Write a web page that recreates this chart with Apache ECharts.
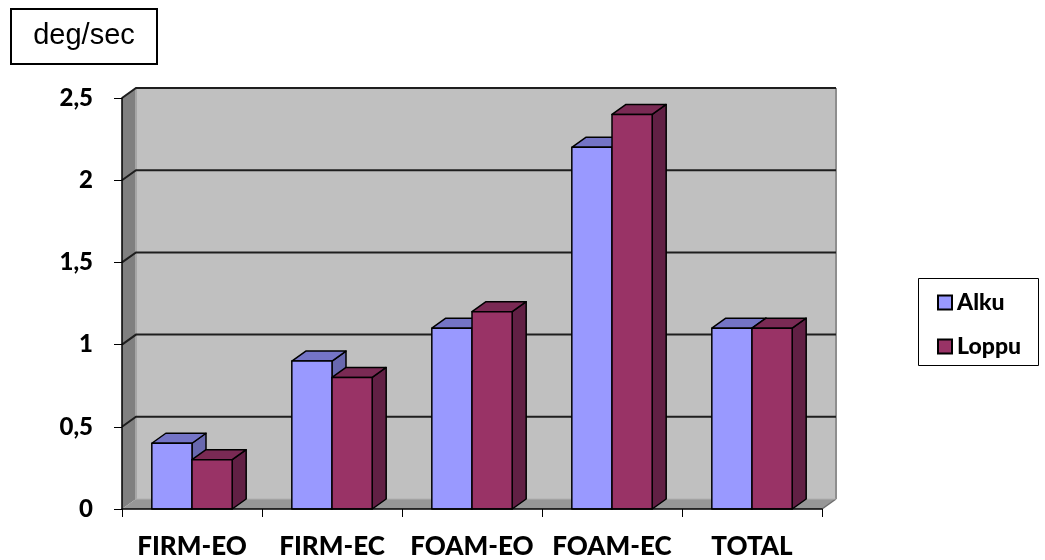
<!DOCTYPE html>
<html>
<head>
<meta charset="utf-8">
<script src="https://cdn.jsdelivr.net/npm/echarts@6/dist/echarts.min.js"></script>
<style>
  html, body { margin: 0; padding: 0; background: #ffffff; }
  #chart { width: 1045px; height: 560px; }
</style>
</head>
<body>
<div id="chart"></div>
<script>
// Angular velocity per condition, start (Alku) vs end (Loppu)
const categories = ['FIRM-EO', 'FIRM-EC', 'FOAM-EO', 'FOAM-EC', 'TOTAL'];
const alku = [0.4, 0.9, 1.1, 2.2, 1.1];
const loppu = [0.3, 0.8, 1.2, 2.4, 1.1];
const seriesNames = ['Alku', 'Loppu'];
const yTicks = [0, 0.5, 1, 1.5, 2, 2.5];
const yTickLabels = ['0', '0,5', '1', '1,5', '2', '2,5'];
const unitLabel = 'deg/sec';

// depth offset of the pseudo-3D box and bars
const DX = 14, DY = -10;
const LABEL_FONT = 'Lato, "Open Sans", sans-serif';

const faces = {
  Alku:  { front: '#9999FF', top: '#7474C6', side: '#6868AE' },
  Loppu: { front: '#993366', top: '#7A2A54', side: '#612044' }
};

// back wall, left wall, floor and the gridlines running across them
function renderWalls(params, api) {
  const cs = params.coordSys;
  const L = cs.x, R = cs.x + cs.width, T = cs.y, B = cs.y + cs.height;
  const kids = [];
  kids.push({ type: 'rect', shape: { x: L + DX, y: T + DY, width: cs.width, height: cs.height },
              style: { fill: '#C0C0C0' } });
  kids.push({ type: 'polygon', shape: { points: [[L, T], [L + DX, T + DY], [L + DX, B + DY], [L, B]] },
              style: { fill: '#808080' } });
  kids.push({ type: 'polygon', shape: { points: [[L, B], [R, B], [R + DX, B + DY], [L + DX, B + DY]] },
              style: { fill: '#979797' } });
  kids.push({ type: 'line', shape: { x1: L + DX, y1: T + DY, x2: L + DX, y2: B + DY },
              style: { stroke: '#A6A6A6', lineWidth: 2 } });
  kids.push({ type: 'line', shape: { x1: R + DX, y1: T + DY, x2: R + DX, y2: B + DY },
              style: { stroke: '#8E8E8E', lineWidth: 2 } });
  kids.push({ type: 'line', shape: { x1: R, y1: B, x2: R + DX, y2: B + DY },
              style: { stroke: '#6E6E6E', lineWidth: 1.5 } });
  kids.push({ type: 'line', shape: { x1: L + DX, y1: B + DY, x2: R + DX, y2: B + DY },
              style: { stroke: '#B0B0B0', lineWidth: 1 } });
  yTicks.slice(1).forEach(function (v) {
    const y = api.coord([0, v])[1];
    kids.push({ type: 'polyline', shape: { points: [[L, y], [L + DX, y + DY], [R + DX, y + DY]] },
                style: { stroke: '#1E1E1E', lineWidth: 2, fill: null } });
  });
  return { type: 'group', children: kids };
}

// one 3D bar: side face, top face, then front face
function barRenderer(slot, col) {
  return function (params, api) {
    const idx = api.value(0), v = api.value(1);
    const base = api.coord([idx, 0]);
    const top = api.coord([idx, v]);
    const band = api.size([1, 0])[0];
    const w = band * 0.287;
    const x0 = slot === 0 ? base[0] - w : base[0];
    const x1 = x0 + w;
    const yb = base[1], yt = top[1];
    const st = { stroke: '#000000', lineWidth: 1.5, lineJoin: 'round' };
    return {
      type: 'group',
      children: [
        { type: 'polygon', shape: { points: [[x1, yt], [x1 + DX, yt + DY], [x1 + DX, yb + DY], [x1, yb]] },
          style: Object.assign({}, st, { fill: col.side }) },
        { type: 'polygon', shape: { points: [[x0, yt], [x0 + DX, yt + DY], [x1 + DX, yt + DY], [x1, yt]] },
          style: Object.assign({}, st, { fill: col.top }) },
        { type: 'rect', shape: { x: x0, y: yt, width: w, height: yb - yt },
          style: Object.assign({}, st, { fill: col.front }) }
      ]
    };
  };
}

const chart = echarts.init(document.getElementById('chart'), null, { renderer: 'canvas' });

chart.setOption({
  backgroundColor: '#ffffff',
  animation: false,
  grid: { left: 122, top: 98, width: 700, height: 411 },
  xAxis: {
    type: 'category',
    data: categories,
    boundaryGap: true,
    z: 10,
    axisLine: { show: true, lineStyle: { color: '#000000', width: 1.5 } },
    axisTick: { show: true, length: 8, lineStyle: { color: '#000000', width: 1 } },
    axisLabel: { interval: 0, margin: 25, color: '#000000', fontFamily: LABEL_FONT, fontWeight: 900, fontSize: 26 },
    splitLine: { show: false }
  },
  yAxis: {
    type: 'value',
    min: 0, max: 2.5, interval: 0.5,
    z: 10,
    axisLine: { show: true, lineStyle: { color: '#000000', width: 1.5 } },
    axisTick: { show: true, length: 8, lineStyle: { color: '#000000', width: 1 } },
    axisLabel: {
      margin: 29, color: '#000000', fontFamily: LABEL_FONT, fontWeight: 900, fontSize: 24,
      formatter: function (val) { const i = yTicks.indexOf(val); return i >= 0 ? yTickLabels[i] : ''; }
    },
    splitLine: { show: false }
  },
  legend: {
    data: seriesNames,
    orient: 'vertical',
    left: 937, top: 291,
    itemWidth: 14, itemHeight: 14, itemGap: 21,
    itemTextGap: 7,
    icon: 'rect',
    padding: 0,
    itemStyle: { borderColor: '#000000', borderWidth: 2 },
    textStyle: { color: '#000000', fontFamily: LABEL_FONT, fontWeight: 900, fontSize: 23, lineHeight: 22 }
  },
  graphic: [
    { type: 'rect', left: 10, top: 8, shape: { width: 146, height: 55 },
      style: { fill: '#ffffff', stroke: '#000000', lineWidth: 2 } },
    { type: 'text', x: 84, y: 36,
      style: { text: unitLabel, fill: '#000000', font: '29px "Liberation Sans", Arial, sans-serif',
               textAlign: 'center', textVerticalAlign: 'middle' } },
    { type: 'rect', left: 918, top: 278, z: -1, shape: { width: 120, height: 87 },
      style: { fill: '#ffffff', stroke: '#000000', lineWidth: 1 } }
  ],
  series: [
    { type: 'custom', name: 'walls', z: 1, silent: true, renderItem: renderWalls,
      data: [[0, 0]], encode: { x: 0, y: 1 } },
    { type: 'custom', name: seriesNames[0], z: 3, renderItem: barRenderer(0, faces.Alku),
      itemStyle: { color: faces.Alku.front },
      data: alku.map(function (v, i) { return [i, v]; }), encode: { x: 0, y: 1 } },
    { type: 'custom', name: seriesNames[1], z: 4, renderItem: barRenderer(1, faces.Loppu),
      itemStyle: { color: faces.Loppu.front },
      data: loppu.map(function (v, i) { return [i, v]; }), encode: { x: 0, y: 1 } }
  ]
});
</script>
</body>
</html>
